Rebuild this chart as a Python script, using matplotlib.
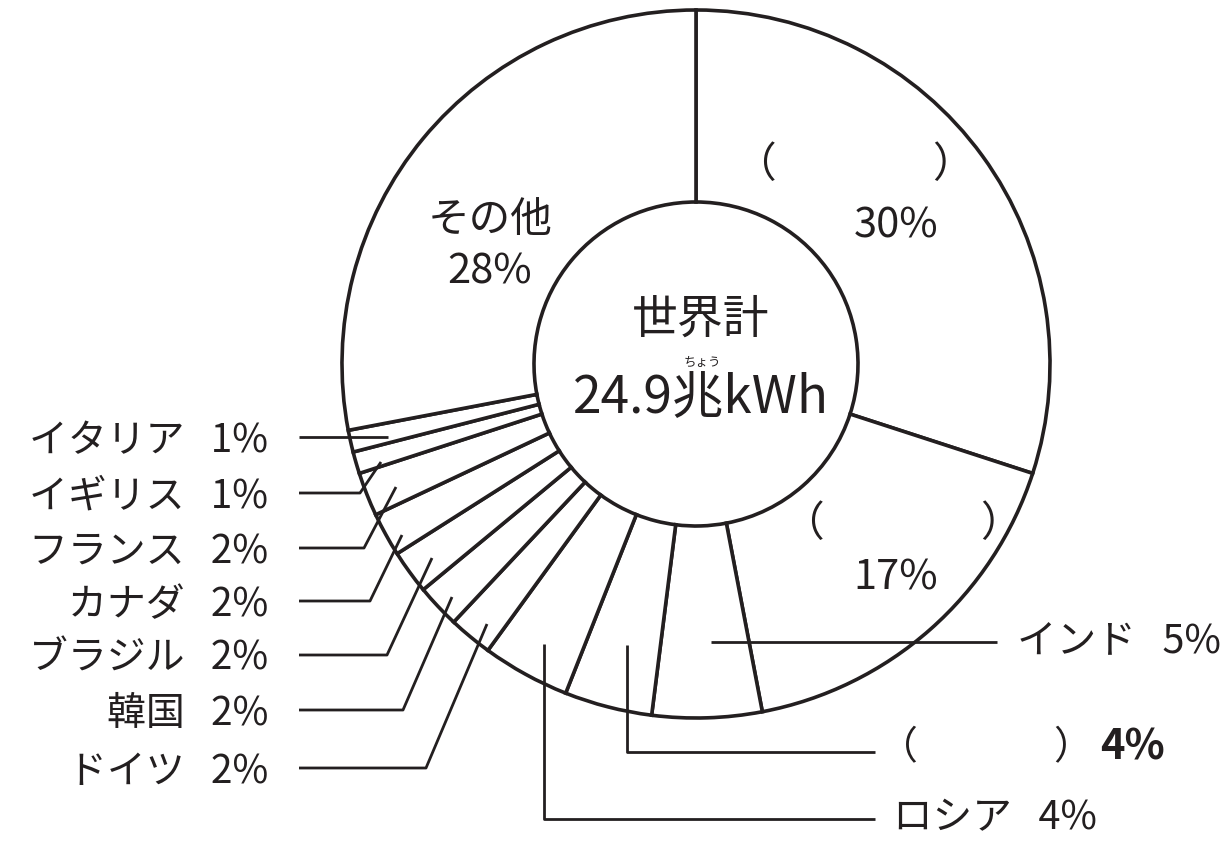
"""World electricity generation share donut chart (black-and-white worksheet style)."""

import matplotlib

matplotlib.use("Agg")
import matplotlib.pyplot as plt

plt.rcParams["font.family"] = ["Noto Sans CJK JP", "DejaVu Sans"]

INK = "#231f20"

# slices clockwise from 12 o'clock
slice_names = ["（　）", "（　）", "インド", "（　）", "ロシア", "ドイツ", "韓国",
               "ブラジル", "カナダ", "フランス", "イギリス", "イタリア", "その他"]
slice_shares = [30, 17, 5, 4, 4, 2, 2, 2, 2, 2, 1, 1, 28]

left_names = ["イタリア", "イギリス", "フランス", "カナダ", "ブラジル", "韓国", "ドイツ"]
left_shares = [1, 1, 2, 2, 2, 2, 2]

total_label = "世界計"
total_value = "24.9兆kWh"
total_ruby = "ちょう"

# layout in pixel coordinates (y grows downwards)
W, H = 1227, 841
CX, CY, R_OUT, R_IN = 696, 364, 354, 162

LEFT_ROWS_Y = [437, 493, 548, 601, 655, 710, 768]
LEFT_KINK_X = [388, 360, 364, 370, 387, 403, 426]
LEFT_TIP = [None, (381, 462), (396, 487), (402, 535), (432, 558), (452, 597), (487, 624)]
GAP = "   "


def main() -> None:
    fig = plt.figure(figsize=(W / 100, H / 100), dpi=100)
    ax = fig.add_axes([0, 0, 1, 1])

    # y axis is inverted, so counterclock=True from -90 runs clockwise from the top
    ax.pie(
        slice_shares,
        startangle=-90,
        counterclock=True,
        radius=R_OUT,
        center=(CX, CY),
        wedgeprops=dict(width=R_OUT - R_IN, facecolor="white",
                        edgecolor=INK, linewidth=2.6),
    )
    ax.set_xlim(0, W)
    ax.set_ylim(H, 0)
    ax.set_aspect("equal")
    ax.axis("off")

    # centre text
    ax.text(CX + 5, 319, total_label, ha="center", va="center", fontsize=33, color=INK)
    ax.text(CX + 6, 362, total_ruby, ha="center", va="center", fontsize=9, color=INK)
    ax.text(CX + 5, 398, total_value, ha="center", va="center", fontsize=37, color=INK)

    # labels inside the ring
    txt = dict(ha="center", va="center", fontsize=30, color=INK)
    ax.text(490, 220, "その他", **txt)
    ax.text(490, 272, f"{slice_shares[-1]}%", **txt)
    ax.text(755, 165, "（", **txt)
    ax.text(953, 165, "）", **txt)
    ax.text(896, 226, f"{slice_shares[0]}%", **txt)
    ax.text(803, 525, "（", **txt)
    ax.text(1001, 525, "）", **txt)
    ax.text(896, 578, f"{slice_shares[1]}%", **txt)

    # left-hand callouts
    lw = 2.0
    for i, (name, share) in enumerate(zip(left_names, left_shares)):
        y = LEFT_ROWS_Y[i]
        xs, ys = [299, LEFT_KINK_X[i]], [y, y]
        if LEFT_TIP[i] is not None:
            xs.append(LEFT_TIP[i][0])
            ys.append(LEFT_TIP[i][1])
        ax.plot(xs, ys, color=INK, linewidth=lw, solid_capstyle="butt")
        ax.text(268, y + 4, f"{name}{GAP}{share}%", ha="right", va="center",
                fontsize=28, color=INK)

    # right-hand callouts
    ax.plot([711, 997], [642, 642], color=INK, linewidth=lw, solid_capstyle="butt")
    ax.text(1017, 642, f"{slice_names[2]}{GAP}{slice_shares[2]}%", ha="left",
            va="center", fontsize=28.5, color=INK)

    ax.plot([627, 627, 875], [645, 752, 752], color=INK, linewidth=lw,
            solid_capstyle="butt")
    ax.text(898, 748, "（", ha="center", va="center", fontsize=28, color=INK)
    ax.text(1073, 748, "）", ha="center", va="center", fontsize=28, color=INK)
    ax.text(1100, 748, f"{slice_shares[3]}%", ha="left", va="center",
            fontsize=30, fontweight="bold", color=INK)

    ax.plot([544, 544, 875], [644, 819, 819], color=INK, linewidth=lw,
            solid_capstyle="butt")
    ax.text(893, 818, f"{slice_names[4]}{GAP}{slice_shares[4]}%", ha="left",
            va="center", fontsize=28.5, color=INK)

    fig.savefig("out.png", dpi=100, facecolor="white")
    plt.close(fig)


if __name__ == "__main__":
    main()
